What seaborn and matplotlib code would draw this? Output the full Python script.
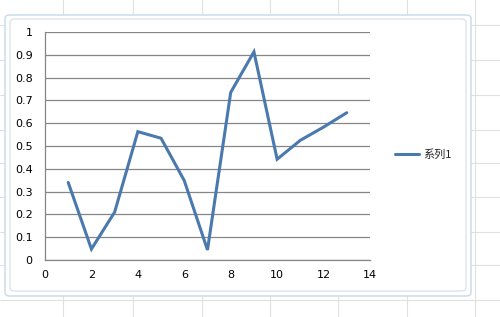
import matplotlib
matplotlib.use("Agg")
import matplotlib.pyplot as plt
import seaborn as sns
import pandas as pd
from matplotlib.patches import FancyBboxPatch
from matplotlib.lines import Line2D

x_values = [1, 2, 3, 4, 5, 6, 7, 8, 9, 10, 11, 12, 13]
y_values = [0.34, 0.048, 0.21, 0.563, 0.534, 0.348, 0.044, 0.735, 0.913, 0.442, 0.525, 0.583, 0.646]
series_name = "系列1"
x_ticks = [0, 2, 4, 6, 8, 10, 12, 14]
y_ticks = [0, 0.1, 0.2, 0.3, 0.4, 0.5, 0.6, 0.7, 0.8, 0.9, 1]
y_tick_labels = ["0", "0.1", "0.2", "0.3", "0.4", "0.5", "0.6", "0.7", "0.8", "0.9", "1"]

df = pd.DataFrame({"x": x_values, "y": y_values, "series": series_name})

sns.set_theme(style="white")
plt.rcParams['font.family'] = ['Noto Sans CJK SC', 'DejaVu Sans']

fig = plt.figure(figsize=(5.0, 3.17), dpi=100)
fig.patch.set_facecolor("white")

# spreadsheet background grid
for gx in [63, 133, 202, 270, 338, 407, 475]:
    fig.add_artist(Line2D([gx / 500, gx / 500], [0, 1], color="#e0e0e0", lw=0.8, zorder=0))
for gy in [25, 60, 95, 130, 163, 197, 232, 265, 300]:
    fig.add_artist(Line2D([0, 1], [1 - gy / 317, 1 - gy / 317], color="#e0e0e0", lw=0.8, zorder=0))

# chart frame
frame_outer = FancyBboxPatch((5 / 500, 1 - 296 / 317), 466 / 500, 281 / 317,
                             boxstyle="round,pad=0,rounding_size=0.01",
                             transform=fig.transFigure, facecolor="white",
                             edgecolor="#c5dbe6", lw=1.0, zorder=1)
fig.add_artist(frame_outer)
frame_inner = FancyBboxPatch((10 / 500, 1 - 291 / 317), 456 / 500, 272 / 317,
                             boxstyle="round,pad=0,rounding_size=0.01",
                             transform=fig.transFigure, facecolor="white",
                             edgecolor="#d3e0e6", lw=0.8, zorder=1)
fig.add_artist(frame_inner)

ax = fig.add_axes([45 / 500, 1 - 260 / 317, 325 / 500, 228 / 317])
ax.set_zorder(2)
ax.patch.set_alpha(0)

sns.lineplot(data=df, x="x", y="y", ax=ax, color="#4a79ad", linewidth=2.2,
             legend=False, solid_joinstyle="miter")

ax.set_xlim(0, 14)
ax.set_ylim(0, 1)
ax.set_xticks(x_ticks)
ax.set_yticks(y_ticks)
ax.set_yticklabels(y_tick_labels)
ax.set_xlabel("")
ax.set_ylabel("")
ax.yaxis.grid(True, color="#868686", lw=0.9)
ax.xaxis.grid(False)
for s in ["top", "right"]:
    ax.spines[s].set_visible(False)
for s in ["left", "bottom"]:
    ax.spines[s].set_color("#868686")
    ax.spines[s].set_linewidth(0.9)
ax.tick_params(axis="both", which="major", labelsize=8, colors="#868686",
               labelcolor="black", length=4, width=0.9, direction="out", pad=3)
ax.tick_params(axis="y", pad=5)
for lbl in ax.get_xticklabels() + ax.get_yticklabels():
    lbl.set_family(['DejaVu Sans'])

handle = Line2D([], [], color="#4a79ad", lw=2.2)
fig.legend([handle], [series_name], loc="center left",
           bbox_to_anchor=(385 / 500, 1 - 155 / 317), frameon=False,
           fontsize=8, handlelength=2.2, handletextpad=0.3)

fig.savefig("out.png", dpi=100, facecolor="white")
